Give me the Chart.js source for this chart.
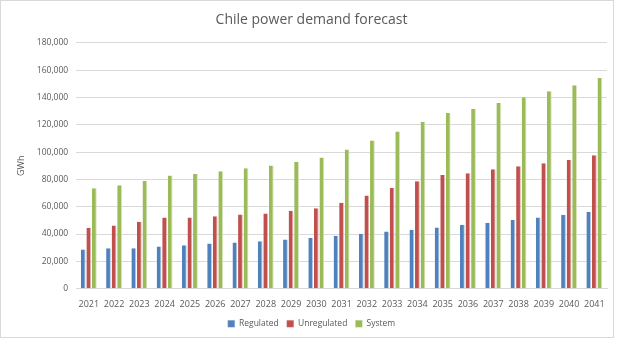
<!DOCTYPE html>
<html>
<head>
<meta charset="utf-8">
<script src="https://cdn.jsdelivr.net/npm/chart.js@4/dist/chart.umd.min.js"></script>
<style>
  html, body { margin: 0; padding: 0; background: #fff; }
  #frame { position: absolute; left: 0; top: 0; width: 612px; height: 336px; border: 1px solid #d9d9d9; background: #fff; }
  #wrap { position: absolute; left: 0; top: 0; width: 619px; height: 338px; }
</style>
</head>
<body>
<div id="frame"></div>
<div id="wrap"><canvas id="chart" width="619" height="338"></canvas></div>
<script>
// Chile power demand forecast, GWh per year
const years = ['2021','2022','2023','2024','2025','2026','2027','2028','2029','2030','2031',
               '2032','2033','2034','2035','2036','2037','2038','2039','2040','2041'];
const regulated   = [28700, 29600, 29600, 30900, 31800, 33100, 33800, 34800, 36000, 37200, 38700,
                     40200, 41900, 43100, 44800, 46800, 48300, 50200, 52200, 54100, 56300];
const unregulated = [44600, 46300, 49000, 52200, 52200, 53100, 54400, 55100, 57100, 58800, 63000,
                     68300, 73700, 78600, 83300, 84500, 87400, 89600, 91800, 94300, 97700];
const system      = [73500, 75700, 78800, 82800, 84000, 86000, 88200, 90200, 92800, 96000, 101900,
                     108500, 115100, 122000, 128600, 131500, 135900, 140100, 144500, 149000, 154300];

const FONT = 'Open Sans, Liberation Sans, sans-serif';
const grey = '#595959';

const ctx = document.getElementById('chart').getContext('2d');
new Chart(ctx, {
    type: 'bar',
    data: {
        labels: years,
        datasets: [
            { label: 'Regulated', data: regulated, backgroundColor: '#4f81bd', borderColor: '#b9cde5', borderWidth: { right: 1 } },
            { label: 'Unregulated', data: unregulated, backgroundColor: '#c0504d', borderColor: '#e6b9b8', borderWidth: { right: 1 } },
            { label: 'System', data: system, backgroundColor: '#9bbb59', borderColor: '#d7e4bd', borderWidth: { right: 1 } }
        ]
    },
    options: {
        responsive: false,
        animation: false,
        layout: { padding: { left: 16, right: 12, top: 8, bottom: 0 } },
        datasets: { bar: { categoryPercentage: 0.66, barPercentage: 0.86 } },
        plugins: {
            title: {
                display: true,
                text: 'Chile power demand forecast',
                color: grey,
                font: { family: FONT, size: 14, weight: 'normal' },
                padding: { top: 4, bottom: 14 }
            },
            legend: {
                position: 'bottom',
                labels: {
                    color: grey,
                    font: { family: FONT, size: 8.5 },
                    boxWidth: 7,
                    boxHeight: 7,
                    padding: 8
                }
            },
            tooltip: { enabled: false }
        },
        scales: {
            x: {
                grid: { display: false },
                border: { color: '#d9d9d9' },
                ticks: { color: grey, padding: 2, font: { family: FONT, size: 9 }, maxRotation: 0, autoSkip: false }
            },
            y: {
                min: 0,
                max: 180000,
                border: { display: false },
                grid: { color: '#d9d9d9', drawTicks: false },
                ticks: {
                    stepSize: 20000,
                    color: grey,
                    padding: 8,
                    font: { family: FONT, size: 8.5 },
                    callback: v => v.toLocaleString('en-US')
                },
                title: {
                    display: true,
                    text: 'GWh',
                    color: grey,
                    font: { family: FONT, size: 9 },
                    padding: { top: 0, bottom: 2 }
                }
            }
        }
    }
});
</script>
</body>
</html>
